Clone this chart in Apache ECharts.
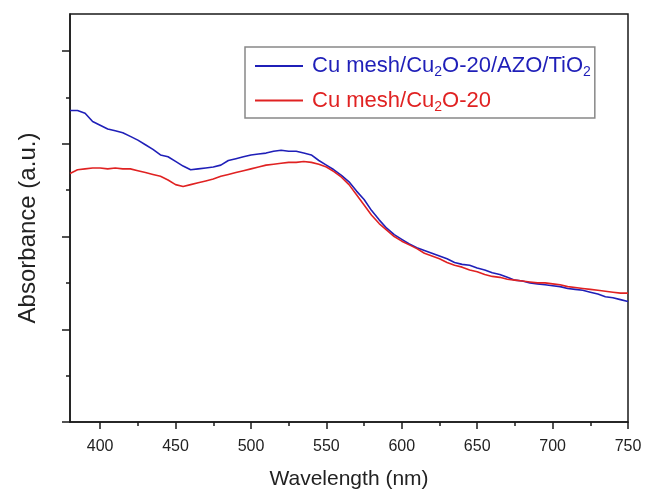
<!DOCTYPE html>
<html>
<head>
<meta charset="utf-8">
<script src="https://cdn.jsdelivr.net/npm/echarts@6/dist/echarts.min.js"></script>
<style>html,body{margin:0;padding:0;background:#fff}#c{width:646px;height:495px}</style>
</head>
<body>
<div id="c"></div>
<script>
var wavelength = [380,385,390,395,400,405,410,415,420,425,430,435,440,445,450,455,460,465,470,475,480,485,490,495,500,505,510,515,520,525,530,535,540,545,550,555,560,565,570,575,580,585,590,595,600,605,610,615,620,625,630,635,640,645,650,655,660,665,670,675,680,685,690,695,700,705,710,715,720,725,730,735,740,745,750];
var blueValues = [3.36,3.36,3.33,3.24,3.20,3.16,3.14,3.12,3.08,3.04,2.99,2.94,2.88,2.86,2.81,2.76,2.72,2.73,2.74,2.75,2.77,2.82,2.84,2.86,2.88,2.89,2.90,2.92,2.93,2.92,2.92,2.90,2.88,2.82,2.77,2.72,2.66,2.59,2.49,2.40,2.28,2.18,2.09,2.02,1.97,1.92,1.88,1.85,1.82,1.79,1.76,1.72,1.70,1.69,1.66,1.64,1.61,1.59,1.56,1.53,1.52,1.50,1.49,1.48,1.47,1.46,1.44,1.43,1.42,1.40,1.38,1.35,1.34,1.32,1.30];
var redValues = [2.68,2.72,2.73,2.74,2.74,2.73,2.74,2.73,2.73,2.71,2.69,2.67,2.65,2.61,2.56,2.54,2.56,2.58,2.60,2.62,2.65,2.67,2.69,2.71,2.73,2.75,2.77,2.78,2.79,2.80,2.80,2.81,2.80,2.78,2.75,2.70,2.64,2.56,2.45,2.34,2.23,2.14,2.07,2.00,1.95,1.91,1.87,1.82,1.79,1.76,1.72,1.69,1.67,1.64,1.62,1.59,1.57,1.56,1.54,1.53,1.52,1.51,1.50,1.50,1.49,1.48,1.46,1.45,1.44,1.43,1.42,1.41,1.40,1.39,1.39];
var xMajorTicks = [400,450,500,550,600,650,700,750];
var xMinorTicks = [425,475,525,575,625,675,725];
var yMajorTicks = [0,1,2,3,4];
var yMinorTicks = [0.5,1.5,2.5,3.5];
var seriesNames = ['Cu mesh/Cu2O-20/AZO/TiO2','Cu mesh/Cu2O-20'];

function zip(xs, ys){ return xs.map(function(x,i){ return [x, ys[i]]; }); }

var FONT = 'Liberation Sans, Arial, sans-serif';
var AX = '#1a1a1a';
var BLUE = '#1f1fb8', RED = '#e02222';
var chart = echarts.init(document.getElementById('c'), null, {renderer:'canvas'});
var xBase = {type:'value', min:380, max:750, gridIndex:0, position:'bottom', splitLine:{show:false}};
var yBase = {type:'value', min:0, max:4.4, gridIndex:0, position:'left', splitLine:{show:false}};
chart.setOption({
  animation:false,
  backgroundColor:'#fff',
  grid:{left:70, right:18, top:14, bottom:68, show:true, borderColor:AX, borderWidth:1.5, backgroundColor:'transparent'},
  xAxis:[
    Object.assign({}, xBase, {
      axisLine:{show:true, lineStyle:{color:AX, width:1.5}},
      axisTick:{show:true, inside:false, length:7, customValues:xMajorTicks, lineStyle:{color:AX, width:1.5}},
      axisLabel:{show:true, customValues:xMajorTicks, fontSize:16, color:'#222', fontFamily:FONT, margin:17},
      name:'Wavelength (nm)', nameLocation:'middle', nameGap:47,
      nameTextStyle:{fontSize:21, color:'#222', fontFamily:FONT}
    }),
    Object.assign({}, xBase, {
      axisLine:{show:false},
      axisTick:{show:true, inside:false, length:4, customValues:xMinorTicks, lineStyle:{color:AX, width:1.5}},
      axisLabel:{show:false}
    })
  ],
  yAxis:[
    Object.assign({}, yBase, {
      axisLine:{show:true, lineStyle:{color:AX, width:1.5}},
      axisTick:{show:true, inside:false, length:8, customValues:yMajorTicks, lineStyle:{color:AX, width:1.5}},
      axisLabel:{show:false},
      name:'Absorbance (a.u.)', nameLocation:'middle', nameGap:30,
      nameTextStyle:{fontSize:24, color:'#222', fontFamily:FONT, padding:[0,20,0,0]}
    }),
    Object.assign({}, yBase, {
      axisLine:{show:false},
      axisTick:{show:true, inside:false, length:4, customValues:yMinorTicks, lineStyle:{color:AX, width:1.5}},
      axisLabel:{show:false}
    })
  ],
  legend:{
    orient:'vertical', left:245, top:47,
    padding:[8,4,4,10], itemGap:10, itemWidth:48, itemHeight:2,
    backgroundColor:'#fff', borderColor:'#888', borderWidth:1.5, borderRadius:0,
    data:[
      {name:seriesNames[0], icon:'rect', itemStyle:{color:BLUE}, textStyle:{color:BLUE}},
      {name:seriesNames[1], icon:'rect', itemStyle:{color:RED}, textStyle:{color:RED}}
    ],
    formatter:function(n){
      if(n===seriesNames[0]) return '{b0|Cu mesh/Cu}{bs|2}{b|O-20/AZO/TiO}{bs|2}';
      return '{r0|Cu mesh/Cu}{rs|2}{r|O-20}';
    },
    textStyle:{fontFamily:FONT, fontSize:22, rich:{
      b0:{color:BLUE, fontSize:22, fontFamily:FONT, padding:[0,0,0,4]},
      b:{color:BLUE, fontSize:22, fontFamily:FONT},
      bs:{color:BLUE, fontSize:14, fontFamily:FONT, padding:[13,0,0,0]},
      r0:{color:RED, fontSize:22, fontFamily:FONT, padding:[0,0,0,4]},
      r:{color:RED, fontSize:22, fontFamily:FONT},
      rs:{color:RED, fontSize:14, fontFamily:FONT, padding:[13,0,0,0]}
    }}
  },
  series:[
    {name:seriesNames[0], type:'line', xAxisIndex:0, yAxisIndex:0, data:zip(wavelength, blueValues), symbol:'none', color:BLUE, lineStyle:{width:1.6, color:BLUE}},
    {name:seriesNames[1], type:'line', xAxisIndex:0, yAxisIndex:0, data:zip(wavelength, redValues), symbol:'none', color:RED, lineStyle:{width:1.6, color:RED}}
  ]
});
</script>
</body>
</html>
